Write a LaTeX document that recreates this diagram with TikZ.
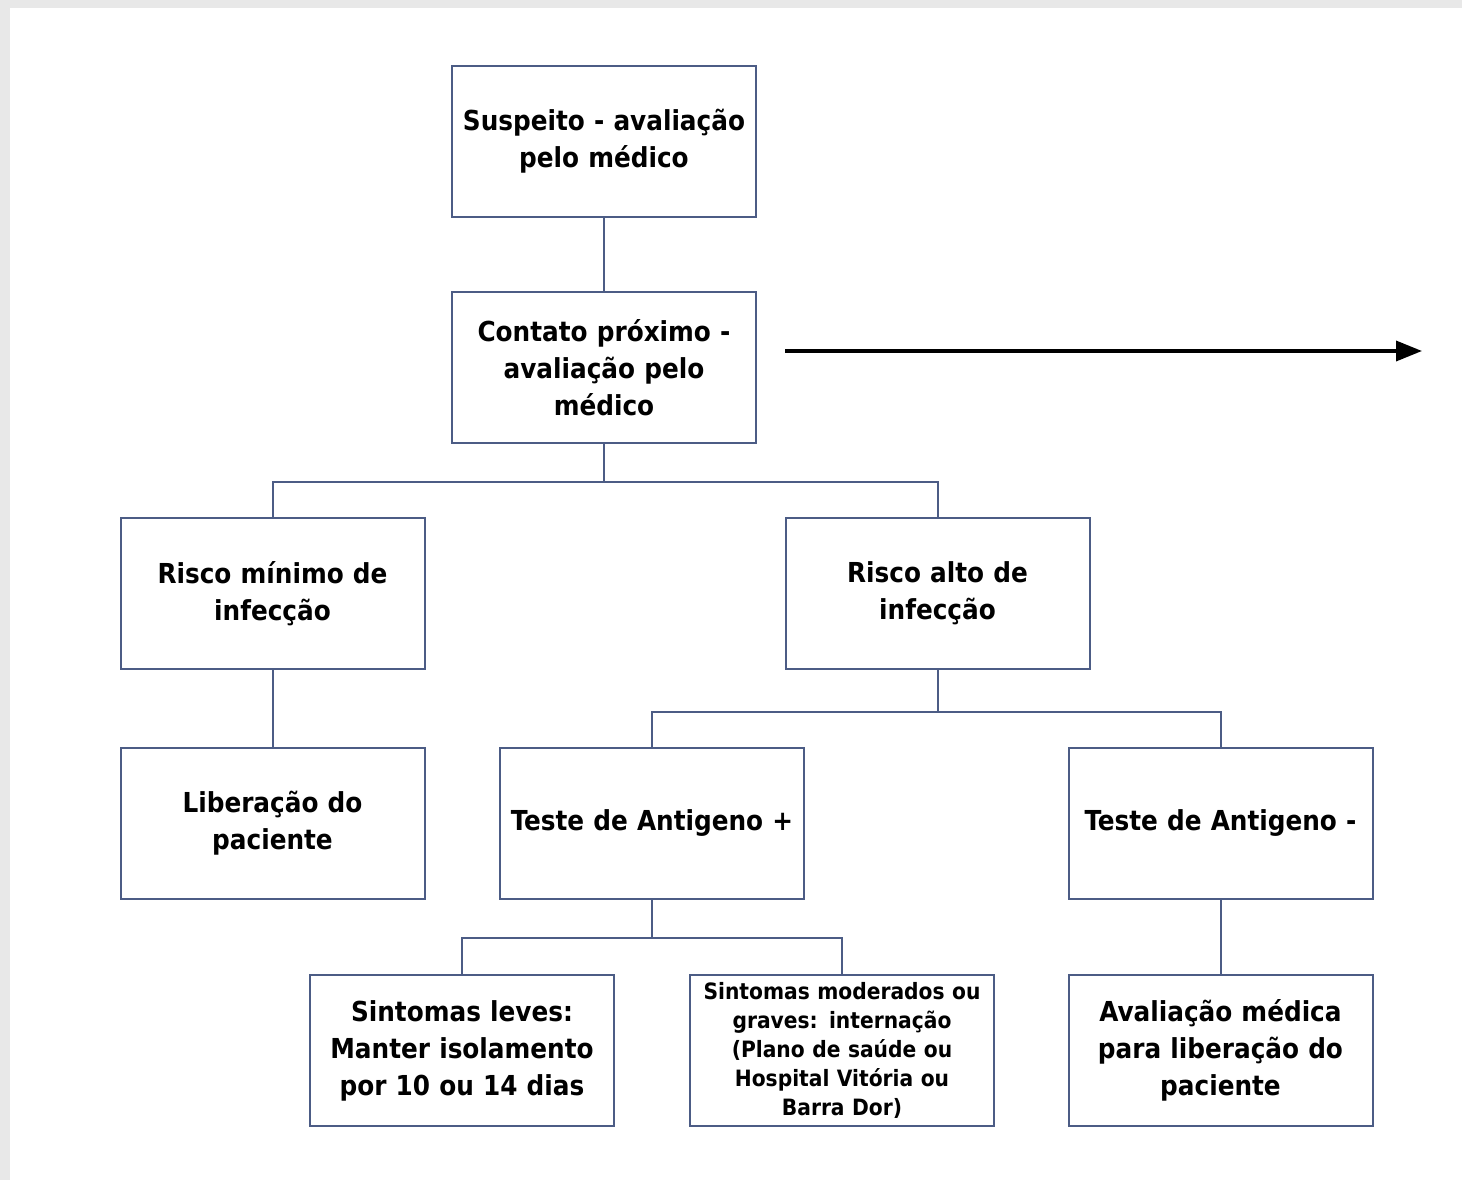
\documentclass[tikz,border=0pt]{standalone}
\usepackage{fontspec}
\setmainfont{DejaVu Sans Condensed}
\usetikzlibrary{arrows.meta}
\definecolor{boxline}{HTML}{4C5C85}
\definecolor{bggray}{HTML}{E8E8E8}
\tikzset{
  box/.style={draw=boxline, line width=2pt, fill=white, minimum width=304pt, minimum height=151pt,
    text width=300pt, align=center, inner sep=0pt, font=\fontsize{27.5}{37}\selectfont\bfseries},
  link/.style={draw=boxline, line width=2pt},
}
\begin{document}
\begin{tikzpicture}[x=1pt,y=-1pt]
\useasboundingbox (0,0) rectangle (1462,1180);
\fill[bggray] (0,0) rectangle (1462,1180);
\fill[white] (10,8) rectangle (1462,1180);
\node[box] (s) at (604,141.5) {Suspeito - avaliação\\pelo médico};
\node[box] (c) at (604,367.5) {Contato próximo -\\avaliação pelo\\médico};
\node[box] (rm) at (272.5,593.5) {Risco mínimo de\\infecção};
\node[box] (ra) at (937.5,593.5) {Risco alto de\\infecção};
\node[box] (lib) at (272.5,823.5) {Liberação do\\paciente};
\node[box] (tp) at (652,823.5) {Teste de Antigeno +};
\node[box] (tn) at (1220.5,823.5) {Teste de Antigeno -};
\node[box] (sl) at (462,1050.5) {Sintomas leves:\\Manter isolamento\\por 10 ou 14 dias};
\node[box, font=\fontsize{22.5}{29}\selectfont\bfseries] (sm) at (842,1050.5) {Sintomas moderados ou\\graves: internação\\(Plano de saúde ou\\Hospital Vitória ou\\Barra Dor)};
\node[box] (am) at (1220.5,1050.5) {Avaliação médica\\para liberação do\\paciente};
\coordinate (a1) at (785,351);
\coordinate (a2) at (1422,351);
\draw[line width=3.5pt, -{Triangle[length=26pt,width=20pt]}] (a1) -- (a2);
\draw[link] (s.south) -- (c.north);
\draw[link] (c.south) -- ++(0,38) -| (rm.north);
\draw[link] (c.south) -- ++(0,38) -| (ra.north);
\draw[link] (rm.south) -- (lib.north);
\draw[link] (ra.south) -- ++(0,42) -| (tp.north);
\draw[link] (ra.south) -- ++(0,42) -| (tn.north);
\draw[link] (tp.south) -- ++(0,38) -| (sl.north);
\draw[link] (tp.south) -- ++(0,38) -| (sm.north);
\draw[link] (tn.south) -- (am.north);
\end{tikzpicture}
\end{document}
